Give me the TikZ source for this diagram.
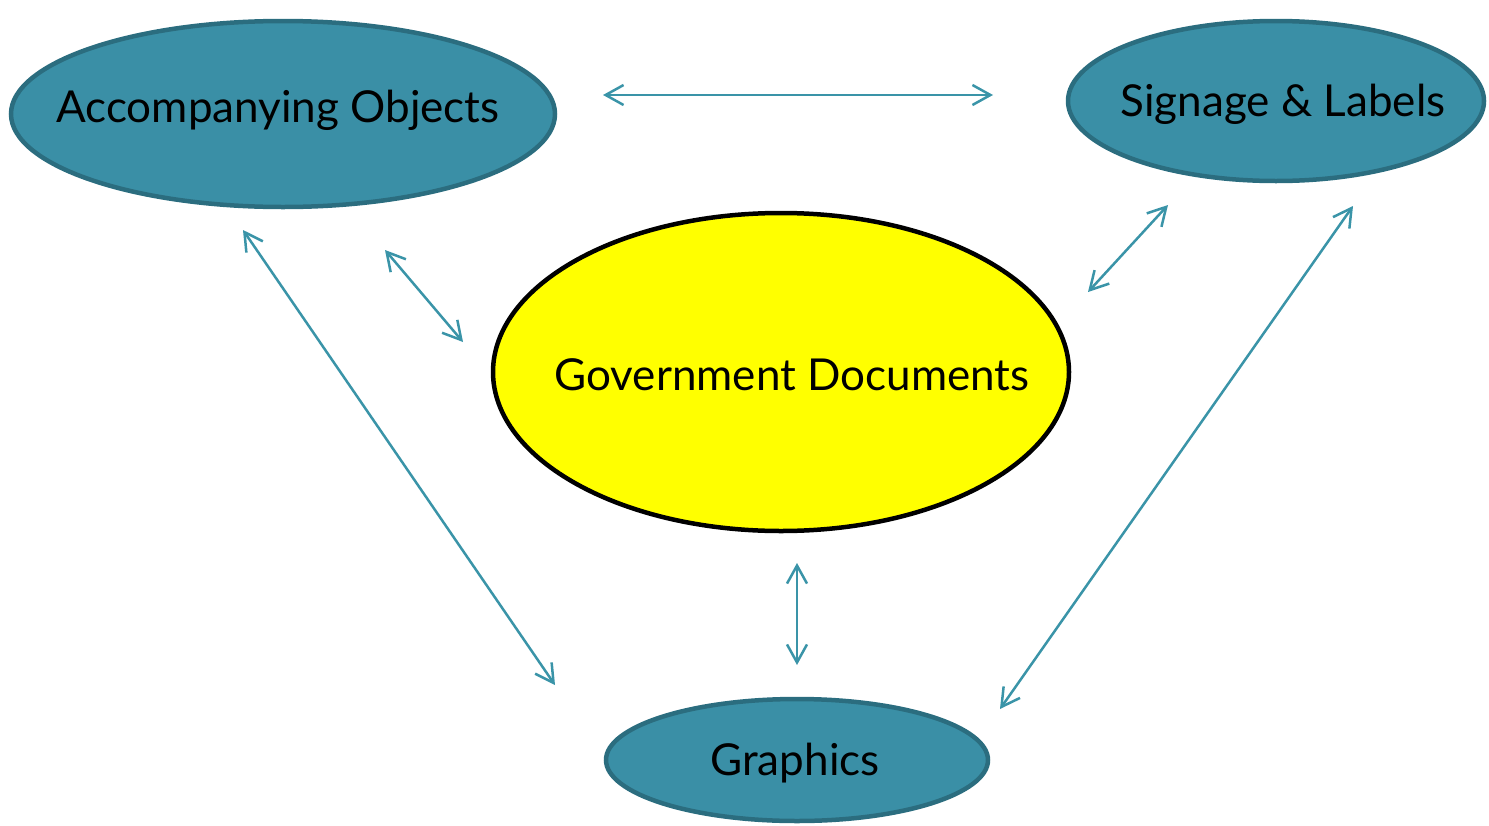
\documentclass[tikz,border=0pt]{standalone}
\usepackage{fontspec}
\setmainfont{Lato}
\usetikzlibrary{shapes.geometric,arrows.meta}
\definecolor{tealfill}{HTML}{3A8FA6}
\definecolor{tealedge}{HTML}{2B6D7F}
\definecolor{arrowc}{HTML}{3A94A8}
\definecolor{govyellow}{RGB}{255,255,0}
\tikzset{
  bubble/.style={ellipse, draw=tealedge, line width=4.5pt, fill=tealfill, inner sep=0pt},
  centerbubble/.style={ellipse, draw=black, line width=4.5pt, fill=govyellow, inner sep=0pt},
  lbl/.style={font=\fontsize{44}{52}\selectfont, text=black},
  link/.style={draw=arrowc, line width=2.5pt, {Straight Barb[length=18pt,width=20pt]}-{Straight Barb[length=18pt,width=20pt]}}
}
\begin{document}
\begin{tikzpicture}[x=1pt,y=-1pt]
\useasboundingbox (0,0) rectangle (1489,825);
\node[bubble, minimum width=544pt, minimum height=186pt] (acc) at (283,114) {};
\node[bubble, minimum width=416pt, minimum height=160pt] (sig) at (1276,101) {};
\node[centerbubble, minimum width=576pt, minimum height=318pt] (gov) at (781,372) {};
\node[bubble, minimum width=382pt, minimum height=122pt] (gra) at (797,760) {};
\node[lbl] (acct) at (278,110) {Accompanying Objects};
\node[lbl] (sigt) at (1283,104) {Signage \& Labels};
\node[lbl] (govt) at (792,375) {Government Documents};
\node[lbl] (grat) at (795,763) {Graphics};
\coordinate (a1) at (603,95);
\coordinate (a2) at (993,95);
\coordinate (b1) at (385,250);
\coordinate (b2) at (463,342);
\coordinate (c1) at (243,230);
\coordinate (c2) at (555,685);
\coordinate (d1) at (1168,205);
\coordinate (d2) at (1088,292);
\coordinate (e1) at (1353,206);
\coordinate (e2) at (1000,709);
\coordinate (f1) at (797,563);
\coordinate (f2) at (797,665);
\draw[link] (a1) -- (a2);
\draw[link] (b1) -- (b2);
\draw[link] (c1) -- (c2);
\draw[link] (d1) -- (d2);
\draw[link] (e1) -- (e2);
\draw[link] (f1) -- (f2);
\end{tikzpicture}
\end{document}
